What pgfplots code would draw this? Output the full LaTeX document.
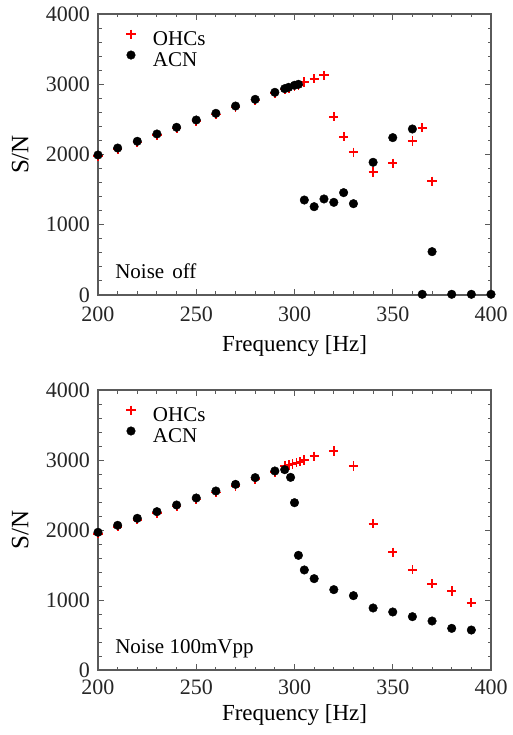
\documentclass[border=0pt]{standalone}
\usepackage{fontspec}
\setmainfont{Liberation Serif}
\usepackage{pgfplots}
\pgfplotsset{compat=1.18}

\definecolor{framegray}{RGB}{90,90,90}

\pgfplotsset{
  snplot/.style={
    scale only axis,
    width=393pt, height=281pt,
    xmin=200, xmax=400, ymin=0, ymax=4000,
    xtick distance=50, ytick distance=1000,
    minor x tick num=4, minor y tick num=4,
    tick align=inside, tick pos=both,
    major tick length=6pt, minor tick length=3.5pt,
    axis line style={framegray, line width=1.2pt},
    every tick/.style={framegray, line width=1pt},
    /pgf/number format/assume math mode=true,
    /pgf/number format/1000 sep={},
    tick label style={font=\fontsize{22}{24}\selectfont, text=black!85},
    yticklabel style={anchor=east, inner sep=0pt, xshift=-8pt},
    every axis x label/.style={at={(axis description cs:0.5,-0.2018)}, anchor=base, font=\fontsize{23}{26}\selectfont},
    every axis y label/.style={at={(axis description cs:-0.177,0.5)}, rotate=90, anchor=base, font=\fontsize{25}{28}\selectfont},
    xlabel={Frequency [Hz]},
    ylabel={S/N},
    legend style={draw=none, fill=none, at={(axis description cs:0.058,0.945)}, anchor=north west,
      font=\fontsize{21}{23}\selectfont, row sep=1pt, inner sep=0pt,
      nodes={inner sep=0pt, text height=14pt, text depth=4pt}},
    legend cell align=left,
    legend image code/.code={\path[draw=none, fill=none] (-10pt,-5pt) rectangle (22pt,5pt); \draw[##1] plot coordinates {(0pt,6.5pt)};},
  },
  ohc/.style={only marks, mark=+, red, mark size=4.6pt, line width=1.8pt},
  acn/.style={only marks, mark=*, black, mark size=4.3pt},
}

\begin{document}
\begin{tikzpicture}
\begin{axis}[snplot, xticklabel style={anchor=north, inner sep=0pt, yshift=-12pt}]
\addplot[ohc] coordinates {
  (200,1975) (210,2075) (220,2170) (230,2275) (240,2370) (250,2475)
  (260,2570) (270,2670) (280,2770) (290,2870) (295,2925) (297,2945)
  (300,2975) (302,2990) (305,3032) (310,3080) (315,3127) (320,2539)
  (325,2254) (330,2031) (340,1751) (350,1874) (360,2192) (365,2382)
  (370,1618)
};
\addlegendentry{OHCs}
\addplot[acn] coordinates {
  (200,1993) (210,2092) (220,2188) (230,2292) (240,2387) (250,2491)
  (260,2586) (270,2690) (280,2785) (290,2885) (295,2937) (297,2956)
  (300,2985) (302,2999) (305,1352) (310,1257) (315,1367) (320,1319)
  (325,1457) (330,1300) (340,1889) (350,2240) (360,2363) (365,10)
  (370,617) (380,10) (390,10) (400,10)
};
\addlegendentry{ACN}
\node[anchor=base west, inner sep=0pt, font=\fontsize{21}{24}\selectfont] at (axis cs:208.7,238) {Noise\hspace{8pt}off};
\end{axis}

\begin{axis}[snplot, at={(0pt,-375pt)}, height=280pt,
  xticklabel style={anchor=north, inner sep=0pt, yshift=-10pt},
  every axis x label/.style={at={(axis description cs:0.5,-0.181)}, anchor=base, font=\fontsize{23}{26}\selectfont}]
\addplot[ohc] coordinates {
  (200,1945) (210,2045) (220,2145) (230,2240) (240,2335) (250,2435)
  (260,2535) (270,2630) (280,2725) (290,2825) (295,2914) (297,2930)
  (299,2943) (301,2960) (303,2976) (305,3000) (310,3055) (320,3129)
  (330,2914) (340,2090) (350,1681) (360,1433) (370,1233) (380,1129)
  (390,962)
};
\addlegendentry{OHCs}
\addplot[acn] coordinates {
  (200,1967) (210,2067) (220,2167) (230,2262) (240,2357) (250,2457)
  (260,2557) (270,2652) (280,2748) (290,2843) (295,2862) (298,2752)
  (300,2390) (302,1638) (305,1429) (310,1305) (320,1148) (330,1062)
  (340,886) (350,829) (360,762) (370,700) (380,595) (390,571)
};
\addlegendentry{ACN}
\node[anchor=base west, inner sep=0pt, font=\fontsize{21}{24}\selectfont] at (axis cs:208.7,239) {Noise 100mVpp};
\end{axis}
\pgfresetboundingbox
\path (-98pt,295pt) rectangle (414pt,-440pt);
\end{tikzpicture}
\end{document}
